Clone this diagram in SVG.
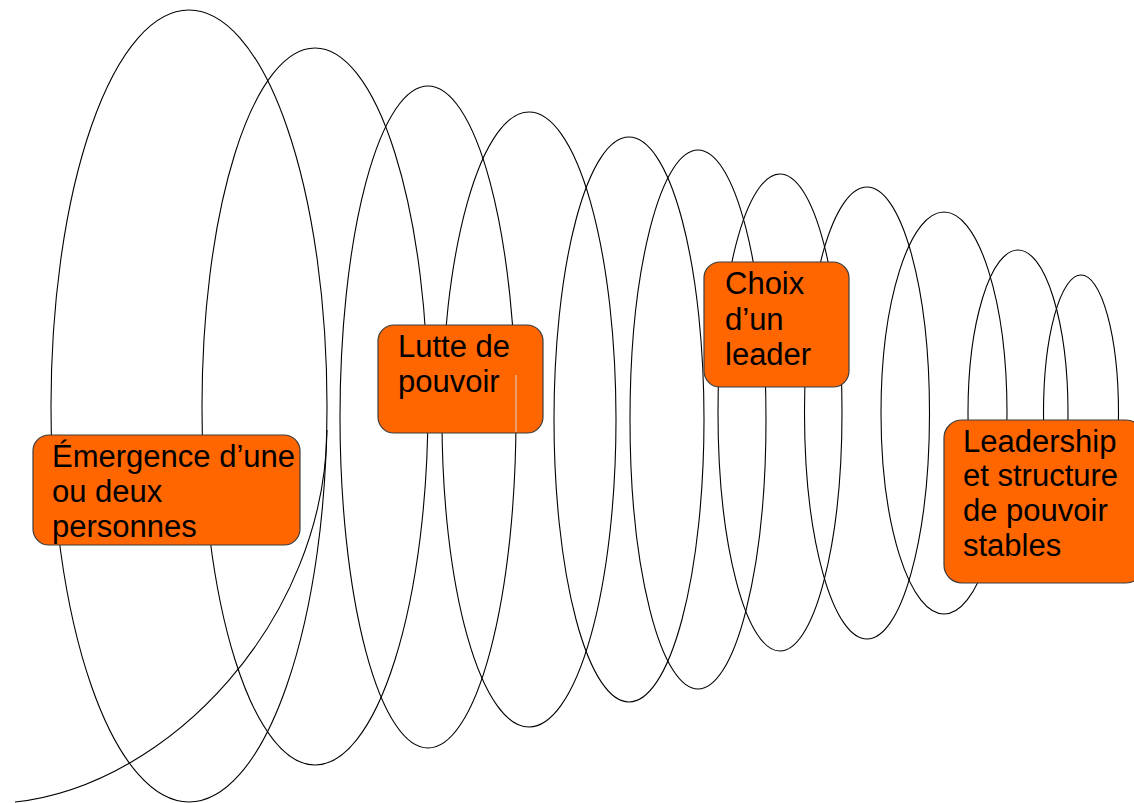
<svg xmlns="http://www.w3.org/2000/svg" width="1134" height="803" viewBox="0 0 1134 803">
<style>
.loop{fill:none;stroke:#000;stroke-width:1.1}
.box{fill:#ff6600;stroke:#3c3c3c;stroke-width:1.2}
.lbl{font-family:"Liberation Sans",Arial,sans-serif;font-size:31px;fill:#000}
</style>
<rect width="1134" height="803" fill="#fff"/>
<g id="connectors">
<ellipse class="loop" cx="189" cy="406" rx="138" ry="396"/>
<ellipse class="loop" cx="315" cy="406.5" rx="113" ry="358.5"/>
<ellipse class="loop" cx="428" cy="417" rx="88" ry="331"/>
<ellipse class="loop" cx="529" cy="419.5" rx="87" ry="307.5"/>
<ellipse class="loop" cx="629" cy="419.5" rx="75" ry="282.5"/>
<ellipse class="loop" cx="698" cy="419.5" rx="68" ry="269.5"/>
<ellipse class="loop" cx="780" cy="412.5" rx="62" ry="238.5"/>
<ellipse class="loop" cx="867" cy="413" rx="62.5" ry="226"/>
<ellipse class="loop" cx="944" cy="413" rx="63" ry="201"/>
<ellipse class="loop" cx="1018" cy="413" rx="50" ry="163"/>
<ellipse class="loop" cx="1081" cy="413" rx="37.5" ry="138"/>
<path class="loop" d="M15,802 C170,785 325,620 327,430"/>
</g>
<g id="node-emergence">
<rect class="box" x="33" y="435" width="267" height="110" rx="16"/>
<text class="lbl" x="52" y="467">Émergence d’une</text>
<text class="lbl" x="52" y="502">ou deux</text>
<text class="lbl" x="52" y="537">personnes</text>
</g>
<g id="node-lutte">
<rect class="box" x="378" y="325" width="165" height="108" rx="16"/>
<text class="lbl" x="398" y="357">Lutte de</text>
<text class="lbl" x="398" y="392">pouvoir</text>
<line x1="516" y1="375" x2="516" y2="432" stroke="#d8d8d8" stroke-width="1"/>
</g>
<g id="node-choix">
<rect class="box" x="704" y="262" width="145" height="125" rx="16"/>
<text class="lbl" x="725" y="294">Choix</text>
<text class="lbl" x="725" y="330">d’un</text>
<text class="lbl" x="725" y="365">leader</text>
</g>
<g id="node-leadership">
<rect class="box" x="944" y="420" width="200" height="163" rx="18"/>
<text class="lbl" x="963" y="452">Leadership</text>
<text class="lbl" x="963" y="486">et structure</text>
<text class="lbl" x="963" y="521">de pouvoir</text>
<text class="lbl" x="963" y="556">stables</text>
</g>
</svg>
